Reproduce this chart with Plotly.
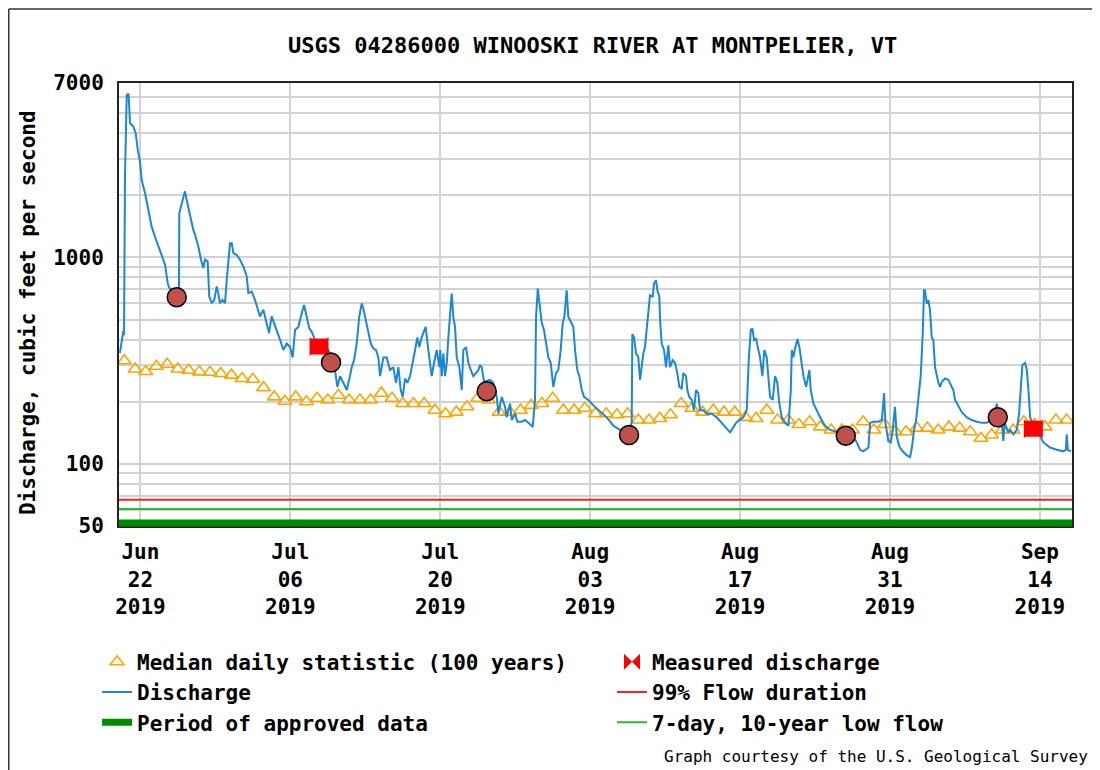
import pandas as pd
import plotly.graph_objects as go

T0 = pd.Timestamp("2019-06-20")

# 15-minute discharge: days since 2019-06-20 00:00 and cfs
q_day = [
    0.09, 0.25, 0.40, 0.47, 0.56, 0.72, 0.89, 1.03, 1.34, 1.56, 1.75, 1.96,
    2.12, 2.43, 2.74, 3.05, 3.36, 3.67, 3.99, 4.30, 4.55, 4.70, 5.32, 5.60,
    5.63, 6.01, 6.16, 6.32, 6.63, 6.94, 7.10, 7.41, 7.66, 7.87, 8.03, 8.28,
    8.43, 8.66, 8.90, 9.12, 9.27, 9.43, 9.65, 9.90, 10.06, 10.21, 10.37, 10.53,
    10.68, 10.99, 11.30, 11.61, 11.93, 12.08, 12.39, 12.70, 13.01, 13.17, 13.48, 13.64,
    13.89, 14.01, 14.26, 14.50, 14.73, 15.04, 15.35, 15.66, 15.97, 16.22, 16.44, 16.75,
    17.06, 17.28, 17.53, 17.77, 18.00, 18.31, 18.77, 19.40, 19.71, 19.99, 20.17, 20.39,
    20.64, 20.95, 21.27, 21.57, 21.73, 21.95, 22.20, 22.44, 22.67, 22.82, 23.07, 23.28,
    23.51, 23.75, 24.00, 24.22, 24.38, 24.69, 25.00, 25.31, 25.62, 25.87, 26.09, 26.31,
    26.50, 26.71, 26.93, 27.18, 27.43, 27.65, 27.86, 28.05, 28.27, 28.49, 28.64, 28.89,
    29.20, 29.42, 29.67, 29.92, 30.00, 30.14, 30.29, 30.45, 30.61, 30.76, 30.92, 31.07,
    31.22, 31.38, 31.54, 31.78, 32.01, 32.16, 32.41, 32.63, 32.85, 33.09, 33.34, 33.56,
    33.72, 33.87, 34.09, 34.65, 34.96, 35.28, 35.43, 35.74, 36.05, 36.21, 36.52, 36.68,
    36.99, 37.20, 37.61, 37.92, 38.23, 38.64, 38.85, 38.95, 39.11, 39.32, 39.48, 39.69,
    39.88, 40.10, 40.32, 40.56, 40.81, 41.03, 41.25, 41.44, 41.59, 41.81, 41.96, 42.19,
    42.43, 42.59, 42.80, 42.99, 43.22, 43.43, 43.83, 44.30, 44.77, 45.23, 45.55, 46.17,
    46.79, 47.72, 47.88, 47.94, 48.10, 48.29, 48.50, 48.66, 48.82, 48.97, 49.12, 49.28,
    49.44, 49.59, 49.84, 49.97, 50.15, 50.28, 50.46, 50.53, 50.68, 50.90, 51.09, 51.30,
    51.46, 51.71, 51.93, 52.14, 52.33, 52.55, 52.70, 52.95, 53.08, 53.26, 53.49, 53.70,
    53.89, 54.10, 54.26, 54.57, 54.89, 55.36, 55.82, 56.29, 56.69, 57.07, 57.32, 57.63,
    57.93, 58.31, 58.62, 58.81, 59.00, 59.15, 59.31, 59.50, 59.71, 59.87, 60.08, 60.27,
    60.49, 60.65, 60.80, 61.05, 61.27, 61.48, 61.67, 61.90, 62.20, 62.52, 62.74, 62.83,
    62.98, 63.14, 63.36, 63.54, 63.76, 63.92, 64.17, 64.38, 64.48, 64.60, 64.85, 65.16,
    65.47, 65.94, 66.41, 66.87, 67.81, 68.28, 68.58, 68.90, 69.21, 69.52, 69.99, 70.15,
    70.46, 70.92, 71.24, 71.45, 71.57, 71.70, 71.85, 72.07, 72.26, 72.47, 72.63, 72.88,
    73.19, 73.57, 73.88, 74.06, 74.25, 74.44, 74.65, 74.87, 75.06, 75.18, 75.27, 75.43,
    75.59, 75.74, 75.90, 76.05, 76.21, 76.37, 76.52, 76.68, 76.84, 77.15, 77.46, 77.77,
    77.92, 78.08, 78.40, 78.71, 79.18, 79.65, 80.11, 80.58, 81.05, 81.64, 81.98, 82.19,
    82.44, 82.59, 82.70, 83.06, 83.22, 83.53, 83.84, 84.06, 84.25, 84.37, 84.62, 84.78,
    84.93, 85.09, 85.37, 86.02, 86.33, 86.95, 87.58, 88.20, 88.42, 88.51, 88.61, 88.91,
]
q_cfs = [
    345, 400, 440, 420, 2500, 6100, 6200, 4470, 4310, 4000, 3320, 2920,
    2370, 2050, 1700, 1410, 1260, 1130, 1010, 922, 750, 710, 680, 700,
    1640, 1940, 2090, 1900, 1580, 1360, 1290, 1130, 975, 888, 975, 957,
    647, 600, 623, 724, 672, 600, 623, 600, 779, 938, 1170, 1170,
    1050, 1030, 975, 904, 809, 672, 684, 623, 558, 518, 558, 518,
    463, 430, 518, 480, 439, 399, 356, 383, 368, 328, 445, 461,
    535, 588, 516, 453, 436, 398, 380, 368, 343, 310, 285, 236,
    266, 247, 228, 266, 294, 318, 383, 516, 598, 566, 488, 429,
    383, 362, 356, 328, 266, 328, 328, 285, 294, 247, 294, 228,
    211, 259, 247, 266, 318, 356, 410, 368, 410, 445, 461, 356,
    266, 308, 356, 294, 356, 266, 343, 266, 308, 410, 516, 669,
    516, 461, 328, 294, 228, 356, 368, 308, 285, 266, 275, 285,
    301, 294, 250, 255, 247, 211, 175, 211, 189, 168, 196, 163,
    175, 160, 160, 163, 158, 151, 204, 516, 707, 556, 482, 445,
    383, 328, 308, 236, 275, 285, 356, 482, 516, 694, 516, 488,
    461, 356, 285, 266, 228, 211, 204, 192, 182, 173, 168, 153,
    146, 149, 158, 424, 410, 343, 328, 255, 308, 343, 368, 461,
    556, 656, 645, 748, 776, 694, 645, 497, 383, 356, 294, 375,
    294, 318, 308, 275, 236, 232, 275, 266, 228, 211, 204, 182,
    228, 220, 182, 182, 175, 175, 168, 158, 151, 142, 149, 158,
    163, 168, 182, 318, 445, 453, 398, 403, 356, 328, 266, 356,
    328, 247, 211, 204, 266, 247, 196, 168, 158, 153, 228, 356,
    328, 362, 403, 368, 308, 266, 236, 266, 285, 228, 196, 182,
    168, 153, 146, 144, 139, 139, 136, 127, 117, 115, 120, 158,
    160, 160, 163, 220, 158, 144, 129, 127, 146, 189, 136, 121,
    115, 110, 108, 121, 146, 163, 204, 266, 429, 694, 694, 598,
    621, 556, 410, 398, 294, 266, 247, 236, 250, 259, 255, 236,
    228, 204, 189, 178, 168, 163, 160, 158, 158, 165, 196, 165,
    158, 129, 158, 142, 146, 139, 146, 175, 247, 301, 308, 285,
    228, 168, 152, 136, 127, 120, 117, 115, 117, 139, 117, 115,
]

# median daily statistic, one value per day at noon starting Jun 20
median_cfs = [
    316, 288, 280, 297, 304, 288, 284, 279, 278, 274,
    269, 259, 257, 234, 211, 201, 211, 200, 208, 204,
    215, 204, 204, 204, 220, 208, 196, 196, 196, 182,
    175, 178, 189, 208, 204, 178, 178, 182, 192, 196,
    208, 182, 182, 186, 175, 175, 173, 175, 163, 163,
    166, 173, 196, 186, 178, 182, 178, 178, 168, 166,
    182, 163, 163, 155, 160, 151, 146, 146, 146, 160,
    146, 155, 143, 143, 149, 149, 146, 151, 149, 143,
    133, 138, 146, 146, 160, 155, 151, 163, 163,
]

# field visits (circles) and measured discharge
visit_day = [5.39, 19.80, 34.34, 47.63, 67.87, 82.07]
visit_cfs = [642, 310, 225, 138, 137, 168]
meas_day = [18.68, 85.39]
meas_cfs = [370, 148]

flow_99 = 67
low_7q10 = 60.5
period = ["2019-06-20", "2019-09-17"]

tick_dates = ["2019-06-22", "2019-07-06", "2019-07-20", "2019-08-03",
              "2019-08-17", "2019-08-31", "2019-09-14"]
tick_text = ["Jun<br>22<br>2019", "Jul<br>06<br>2019", "Jul<br>20<br>2019",
             "Aug<br>03<br>2019", "Aug<br>17<br>2019", "Aug<br>31<br>2019",
             "Sep<br>14<br>2019"]
y_ticks = [50, 100, 1000, 7000]
y_minor = [60, 70, 80, 90, 200, 300, 400, 500, 600, 700, 800, 900,
           2000, 3000, 4000, 5000, 6000]

q_time = T0 + pd.to_timedelta(q_day, unit="D")
median_time = pd.date_range(T0 + pd.Timedelta(hours=12), periods=len(median_cfs), freq="D")
visit_time = T0 + pd.to_timedelta(visit_day, unit="D")
meas_time = T0 + pd.to_timedelta(meas_day, unit="D")

MONO = "DejaVu Sans Mono"
GRID = "#d2d2d2"

fig = go.Figure()

fig.add_trace(go.Scatter(
    x=period, y=[flow_99, flow_99], mode="lines", name="99% Flow duration",
    line=dict(color="#ff2020", width=2), legend="legend2", legendrank=2))
fig.add_trace(go.Scatter(
    x=period, y=[low_7q10, low_7q10], mode="lines", name="7-day, 10-year low flow",
    line=dict(color="#2db82d", width=2), legend="legend2", legendrank=3))
fig.add_trace(go.Scatter(
    x=median_time, y=median_cfs, mode="markers", name="Median daily statistic (100 years)",
    marker=dict(symbol="triangle-up-open", size=12, color="#ffa500", line=dict(width=1.6)),
    legendrank=1))
fig.add_trace(go.Scatter(
    x=q_time, y=q_cfs, mode="lines", name="Discharge",
    line=dict(color="#1a88d4", width=2), legendrank=2))
fig.add_trace(go.Scatter(
    x=[None], y=[None], mode="lines", name="Period of approved data",
    line=dict(color="#008c00", width=7), legendrank=3))
fig.add_trace(go.Scatter(
    x=meas_time, y=meas_cfs, mode="markers", showlegend=False,
    marker=dict(symbol="square", size=16, color="#ff0000")))
fig.add_trace(go.Scatter(
    x=meas_time, y=meas_cfs, mode="markers", name="Measured discharge",
    marker=dict(symbol="bowtie", size=19, color="#ff0000", line=dict(width=0)),
    legend="legend2", legendrank=1))
fig.add_trace(go.Scatter(
    x=visit_time, y=visit_cfs, mode="markers", showlegend=False,
    marker=dict(symbol="circle", size=19, color="#c0504d", line=dict(color="black", width=1.5))))

# approved-data bar along the bottom of the plot
fig.add_shape(type="line", xref="x", yref="y domain", x0=period[0], x1=period[1],
              y0=0.007, y1=0.007, line=dict(color="#008c00", width=7))
# outer frame of the graphic (top and left edges only)
fig.add_shape(type="line", xref="paper", yref="paper", x0=-0.1157, x1=1.1,
              y0=1.167, y1=1.167, line=dict(color="#333333", width=1.5), layer="below")
fig.add_shape(type="line", xref="paper", yref="paper", x0=-0.1157, x1=-0.1157,
              y0=-0.62, y1=1.167, line=dict(color="#333333", width=1.5), layer="below")

fig.add_annotation(text="Discharge, cubic feet per second", textangle=-90,
                   xref="paper", yref="paper", x=-0.0955, y=0.483, xanchor="center",
                   yanchor="middle", showarrow=False,
                   font=dict(family=MONO, size=21, color="black", weight="bold"))
fig.add_annotation(text="Graph courtesy of the U.S. Geological Survey",
                   xref="paper", yref="paper", x=1.019, y=-0.521, xanchor="right",
                   yanchor="middle", showarrow=False,
                   font=dict(family=MONO, size=16, color="black"))

legend_style = dict(font=dict(family=MONO, size=21, color="black", weight="bold"),
                    bgcolor="rgba(0,0,0,0)", yanchor="top", xanchor="left",
                    orientation="v", traceorder="normal", tracegroupgap=0)

# the page adds an 8px body margin, so the figure is sized to fit the window
fig.update_layout(
    width=1092, height=762,
    margin=dict(l=111, r=28, t=75, b=244),
    paper_bgcolor="white", plot_bgcolor="white",
    title=dict(text="USGS 04286000 WINOOSKI RIVER AT MONTPELIER, VT",
               x=0.497, xref="paper", xanchor="center", y=1 - 37 / 762, yanchor="middle",
               font=dict(family=MONO, size=22, color="black", weight="bold")),
    legend=dict(x=-0.023, y=-0.261, **legend_style),
    legend2=dict(x=0.5173, y=-0.261, **legend_style),
    xaxis=dict(
        range=period, tickvals=tick_dates, ticktext=tick_text, ticks="",
        showgrid=True, gridcolor=GRID, gridwidth=2, zeroline=False,
        showline=True, mirror=True, linecolor="#222222", linewidth=2,
        ticklabelstandoff=6,
        tickfont=dict(family=MONO, size=21, color="black", weight="bold")),
    yaxis=dict(
        type="log", range=[1.69897, 3.845098], tickvals=y_ticks,
        ticktext=[str(v) for v in y_ticks], ticks="",
        showgrid=True, gridcolor=GRID, gridwidth=2, zeroline=False,
        showline=True, mirror=True, linecolor="#222222", linewidth=2,
        ticklabelstandoff=9,
        minor=dict(tickvals=y_minor, showgrid=True, gridcolor=GRID, gridwidth=2, ticks=""),
        tickfont=dict(family=MONO, size=21, color="black", weight="bold")),
)

fig.write_html("out.html")
